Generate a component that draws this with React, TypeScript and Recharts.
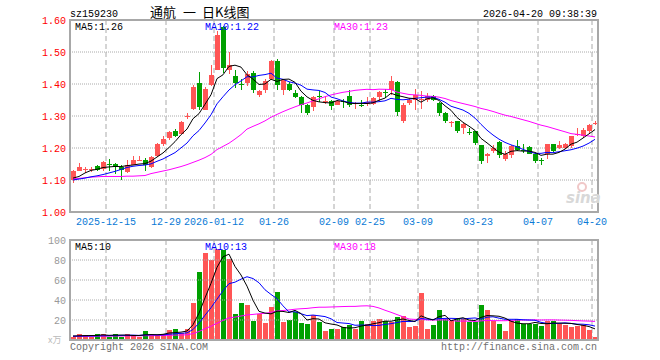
import React from 'react';
import { ComposedChart, Bar, Line, XAxis, YAxis, CartesianGrid, ReferenceLine } from 'recharts';

const dates = [
  '2025-12-05','2025-12-08','2025-12-09','2025-12-10','2025-12-11','2025-12-12',
  '2025-12-15','2025-12-16','2025-12-17','2025-12-18','2025-12-19',
  '2025-12-22','2025-12-23','2025-12-24','2025-12-25','2025-12-26',
  '2025-12-29','2025-12-30','2025-12-31',
  '2026-01-05','2026-01-06','2026-01-07','2026-01-08','2026-01-09',
  '2026-01-12','2026-01-13','2026-01-14','2026-01-15','2026-01-16',
  '2026-01-19','2026-01-20','2026-01-21','2026-01-22','2026-01-23',
  '2026-01-26','2026-01-27','2026-01-28','2026-01-29','2026-01-30',
  '2026-02-02','2026-02-03','2026-02-04','2026-02-05','2026-02-06',
  '2026-02-09','2026-02-10','2026-02-11','2026-02-12','2026-02-13',
  '2026-02-24','2026-02-25','2026-02-26','2026-02-27',
  '2026-03-02','2026-03-03','2026-03-04','2026-03-05','2026-03-06',
  '2026-03-09','2026-03-10','2026-03-11','2026-03-12','2026-03-13',
  '2026-03-16','2026-03-17','2026-03-18','2026-03-19','2026-03-20',
  '2026-03-23','2026-03-24','2026-03-25','2026-03-26','2026-03-27',
  '2026-03-30','2026-03-31','2026-04-01','2026-04-02','2026-04-03',
  '2026-04-07','2026-04-08','2026-04-09','2026-04-10',
  '2026-04-13','2026-04-14','2026-04-15','2026-04-16','2026-04-17',
  '2026-04-20',
];

const opens = [
  1.101,1.129,1.131,1.133,1.145,1.134,1.151,1.150,1.141,1.124,
  1.148,1.162,1.164,1.141,1.174,1.214,1.231,1.252,1.245,1.296,
  1.323,1.403,1.320,1.396,1.445,1.578,1.445,1.426,1.401,1.403,
  1.434,1.367,1.382,1.417,1.473,1.382,1.400,1.372,1.359,1.335,
  1.328,1.362,1.345,1.346,1.335,1.348,1.364,1.336,1.334,1.337,
  1.339,1.358,1.375,1.380,1.405,1.283,1.341,1.351,1.350,1.351,
  1.364,1.341,1.309,1.279,1.283,1.262,1.251,1.252,1.208,1.176,
  1.190,1.218,1.166,1.179,1.205,1.194,1.202,1.181,1.161,1.181,
  1.212,1.200,1.200,1.207,1.241,1.239,1.252,1.276,
];
const highs = [
  1.132,1.153,1.140,1.140,1.148,1.158,1.166,1.153,1.148,1.164,
  1.174,1.174,1.169,1.174,1.216,1.239,1.253,1.259,1.283,1.309,
  1.398,1.439,1.391,1.458,1.565,1.582,1.500,1.445,1.416,1.440,
  1.440,1.382,1.417,1.476,1.479,1.417,1.406,1.382,1.361,1.339,
  1.361,1.377,1.358,1.351,1.349,1.353,1.382,1.343,1.351,1.359,
  1.359,1.377,1.384,1.426,1.408,1.340,1.356,1.385,1.377,1.372,
  1.367,1.343,1.312,1.283,1.285,1.277,1.262,1.254,1.210,1.184,
  1.208,1.221,1.190,1.210,1.224,1.213,1.205,1.183,1.169,1.214,
  1.214,1.223,1.216,1.239,1.262,1.262,1.276,1.283,
];
const lows = [
  1.091,1.127,1.122,1.124,1.129,1.127,1.127,1.119,1.101,1.122,
  1.146,1.158,1.127,1.138,1.172,1.207,1.224,1.233,1.242,1.289,
  1.320,1.320,1.318,1.393,1.442,1.434,1.430,1.388,1.382,1.393,
  1.372,1.361,1.374,1.414,1.382,1.367,1.377,1.356,1.309,1.304,
  1.315,1.342,1.335,1.320,1.332,1.325,1.330,1.320,1.330,1.332,
  1.335,1.346,1.356,1.367,1.299,1.278,1.333,1.320,1.320,1.345,
  1.348,1.300,1.278,1.263,1.247,1.244,1.240,1.210,1.150,1.153,
  1.184,1.169,1.158,1.169,1.190,1.186,1.179,1.153,1.148,1.166,
  1.190,1.198,1.198,1.200,1.236,1.231,1.247,1.270,
];
const closes = [
  1.127,1.140,1.133,1.135,1.132,1.155,1.149,1.141,1.132,1.148,
  1.164,1.164,1.148,1.171,1.212,1.228,1.249,1.239,1.280,1.300,
  1.390,1.328,1.385,1.429,1.552,1.450,1.460,1.403,1.399,1.432,
  1.382,1.377,1.410,1.473,1.398,1.414,1.382,1.359,1.335,1.309,
  1.358,1.360,1.347,1.330,1.346,1.345,1.333,1.340,1.333,1.344,
  1.356,1.374,1.373,1.408,1.311,1.335,1.351,1.367,1.352,1.364,
  1.351,1.309,1.283,1.282,1.252,1.275,1.249,1.216,1.158,1.182,
  1.200,1.179,1.182,1.205,1.193,1.192,1.181,1.160,1.159,1.212,
  1.192,1.208,1.212,1.236,1.243,1.257,1.273,1.279,
];
// volume, in units of 10,000
const volumes = [
  2.7,6,4.7,3.3,6,6,3.3,6,3.3,6,
  4,3.3,9,5,5,6,10,11,7.3,10.7,
  37.3,68,87.3,80,90.7,90,81,26,37.3,35,
  19.3,25.7,17.3,33.3,48.3,18.3,20,28.3,17.3,16,
  25,18.3,9.3,11.3,11.3,12.7,15,11.3,19.3,16,
  19.3,20.7,19.3,18.3,22.7,24,13.3,14.3,46.7,10.7,
  15,30,20.7,19.3,20.7,20.7,18.3,18.3,35,30,
  19.3,16,9.3,19.3,20.7,16,16,16,14,19.3,
  19.3,16,15,13.3,14,15,10,3.3,
];

// moving-average values before a full window exists
const ma5Lead = [1.106, 1.111, 1.122, 1.130];
const ma10Lead = [1.100, 1.103, 1.106, 1.110, 1.113, 1.117, 1.122, 1.127, 1.133];
const ma30Lead = [
  1.103,1.105,1.107,1.109,1.110,1.111,1.111,1.111,1.111,1.112,
  1.112,1.113,1.114,1.120,1.124,1.128,1.132,1.137,1.142,1.148,
  1.155,1.162,1.170,1.180,1.195,1.205,1.215,1.228,1.242,
];
const vma5Lead = [4.0, 4.2, 4.4, 4.5];
const vma10Lead = [3.8, 3.9, 4.0, 4.0, 4.1, 4.2, 4.3, 4.4, 4.6];
const vma30Lead = [
  3.5,3.6,3.7,3.7,3.8,3.9,3.9,4.0,4.0,4.1,
  4.1,4.2,4.3,4.3,4.4,4.5,4.7,4.9,5.0,5.2,
  6.4,8.5,11.3,13.8,16.7,19.6,22.2,22.9,24.0,
];

const tickDates = ['2025-12-15','2025-12-29','2026-01-12','2026-01-26','2026-02-09','2026-02-25','2026-03-09','2026-03-23','2026-04-07','2026-04-20'];
const tickLabels = ['2025-12-15','12-29','2026-01-12','01-26','02-09','02-25','03-09','03-23','04-07','04-20'];
const priceTicks = [1.0, 1.1, 1.2, 1.3, 1.4, 1.5, 1.6];
const volTicks = [20, 40, 60, 80, 100];

const legendPrice = ['MA5:1.26', 'MA10:1.22', 'MA30:1.23'];
const legendVol = ['MA5:10', 'MA10:13', 'MA30:18'];

const RED = '#ff5555';
const GREEN = '#00a000';
const GRID = '#aaaaaa';
const FRAME = '#a8a8a8';
const MONO = '"Liberation Mono", "DejaVu Sans Mono", monospace';
const CJK = '"Noto Sans CJK SC", sans-serif';

function movingAvg(values: number[], n: number, lead: number[]) {
  return values.map((_, i) => {
    if (i < n - 1) return lead[i];
    let s = 0;
    for (let k = i - n + 1; k <= i; k++) s += values[k];
    return s / n;
  });
}

const ma5 = movingAvg(closes, 5, ma5Lead);
const ma10 = movingAvg(closes, 10, ma10Lead);
const ma30 = movingAvg(closes, 30, ma30Lead);
const vma5 = movingAvg(volumes, 5, vma5Lead);
const vma10 = movingAvg(volumes, 10, vma10Lead);
const vma30 = movingAvg(volumes, 30, vma30Lead);

const data = dates.map((d, i) => ({
  date: d,
  range: [lows[i], highs[i]],
  open: opens[i],
  close: closes[i],
  high: highs[i],
  low: lows[i],
  ma5: ma5[i],
  ma10: ma10[i],
  ma30: ma30[i],
  vol: volumes[i],
  vma5: vma5[i],
  vma10: vma10[i],
  vma30: vma30[i],
  up: closes[i] >= opens[i],
}));

const Candle = (props: any) => {
  const { x, y, width, height, payload } = props;
  if (!payload || height == null) return null;
  const { open, close, high, low } = payload;
  const ratio = height / (high - low || 1);
  const py = (p: number) => y + (high - p) * ratio;
  const color = close >= open ? RED : GREEN;
  const bx = Math.round(x);
  const w = Math.round(width);
  const cx = bx + Math.floor(w / 2);
  const top = Math.round(py(Math.max(open, close)));
  const bot = Math.round(py(Math.min(open, close)));
  return (
    <g shapeRendering="crispEdges">
      <rect x={cx} y={Math.round(y)} width={1} height={Math.max(1, Math.round(height))} fill={color} />
      <rect x={bx} y={top} width={w} height={Math.max(1, bot - top)} fill={color} />
    </g>
  );
};

const VolBar = (props: any) => {
  const { x, y, width, height, payload } = props;
  if (!payload) return null;
  const color = payload.up ? RED : GREEN;
  return (
    <rect x={Math.round(x)} y={Math.round(y)} width={Math.round(width)} height={Math.max(0, Math.round(height))}
      fill={color} shapeRendering="crispEdges" />
  );
};

const XTick = (props: any) => {
  const { x, y, payload } = props;
  const idx = tickDates.indexOf(payload.value);
  const off = payload.offset != null ? payload.offset : 3;
  return (
    <text x={x - off} y={y + 13} textAnchor="middle" fill="#0a7ad6" fontFamily={MONO} fontSize={10}>
      {idx >= 0 ? tickLabels[idx] : payload.value}
    </text>
  );
};

const PriceTick = (props: any) => {
  const { x, y, payload } = props;
  return (
    <text x={x} y={y + 3.5} textAnchor="end" fill="#ff0000" fontFamily={MONO} fontSize={10}>
      {Number(payload.value).toFixed(2)}
    </text>
  );
};

const VolLabel = (props: any) => {
  const vb = props.viewBox || {};
  return (
    <text x={(vb.x || 0) - 4} y={(vb.y || 0) + 3.5} textAnchor="end" fill="#999999" fontFamily={MONO} fontSize={10}>
      {props.text}
    </text>
  );
};

// vertical grid lines at the left edge of each tick date's slot
const vGen = (args: any) => {
  const off = args && args.offset;
  if (!off) return [];
  const slot = off.width / dates.length;
  return tickDates.map((d) => off.left + dates.indexOf(d) * slot);
};

export default function App() {
  return (
    <div style={{ position: 'absolute', left: 0, top: 0, width: 660, height: 360, background: '#fff', overflow: 'hidden' }}>
      <div style={{ position: 'absolute', left: 0, top: 0 }}>
        <ComposedChart width={660} height={232} data={data} margin={{ top: 20, right: 62, bottom: 0, left: 0 }}>
          <CartesianGrid vertical={false} stroke={GRID} strokeDasharray="1 1" />
          <CartesianGrid horizontal={false} stroke={GRID} strokeDasharray="5 3" verticalCoordinatesGenerator={vGen} />
          <XAxis dataKey="date" ticks={tickDates} interval={0} height={20} axisLine={false} tickLine={false}
            tickSize={0} tickMargin={0} tick={<XTick />} />
          <YAxis domain={[1.0, 1.6]} ticks={priceTicks} interval={0} minTickGap={0} width={70} axisLine={false} tickLine={false}
            tickSize={0} tickMargin={4} tick={<PriceTick />} allowDataOverflow />
          <Bar dataKey="range" barSize={5} shape={<Candle />} isAnimationActive={false} />
          <Line dataKey="ma30" stroke="#ff00ff" strokeWidth={1} dot={false} isAnimationActive={false} />
          <Line dataKey="ma10" stroke="#0000ff" strokeWidth={1} dot={false} isAnimationActive={false} />
          <Line dataKey="ma5" stroke="#000000" strokeWidth={1} dot={false} isAnimationActive={false} />
        </ComposedChart>
      </div>
      <div style={{ position: 'absolute', left: 0, top: 230 }}>
        <ComposedChart width={660} height={130} data={data} margin={{ top: 10, right: 62, bottom: 20, left: 0 }}>
          <CartesianGrid horizontal={false} stroke={GRID} strokeDasharray="5 3" verticalCoordinatesGenerator={vGen} />
          <XAxis dataKey="date" ticks={tickDates} hide />
          <YAxis type="number" domain={[0, 100]} width={70} axisLine={false} tickLine={false} tick={false} allowDataOverflow />
          {volTicks.map((v) => (
            <ReferenceLine key={v} y={v} stroke={GRID} strokeDasharray="1 1"
              label={<VolLabel text={String(v)} />} />
          ))}
          <Bar dataKey="vol" barSize={5} shape={<VolBar />} isAnimationActive={false} />
          <Line dataKey="vma30" stroke="#ff00ff" strokeWidth={1} dot={false} isAnimationActive={false} />
          <Line dataKey="vma10" stroke="#0000ff" strokeWidth={1} dot={false} isAnimationActive={false} />
          <Line dataKey="vma5" stroke="#000000" strokeWidth={1} dot={false} isAnimationActive={false} />
        </ComposedChart>
      </div>
      <svg width={660} height={360} style={{ position: 'absolute', left: 0, top: 0, pointerEvents: 'none' }}>
        <rect x={70} y={20} width={528} height={192} fill="none" stroke={FRAME} strokeWidth={2} />
        <rect x={70} y={240} width={528} height={100} fill="none" stroke={FRAME} strokeWidth={2} />
        <text x={70} y={17} fontFamily={MONO} fontSize={10} fill="#000">sz159230</text>
        <text x={150} y={17} fontFamily={CJK} fontSize={13} fill="#000">通航</text>
        <text x={183} y={17} fontFamily={CJK} fontSize={13} fill="#000">一</text>
        <text x={202} y={17} fontFamily={CJK} fontSize={13} fill="#000">日K线图</text>
        <text x={597} y={17} textAnchor="end" fontFamily={MONO} fontSize={10} fill="#000">2026-04-20 09:38:39</text>
        <text x={75} y={30} fontFamily={MONO} fontSize={10} fill="#000">{legendPrice[0]}</text>
        <text x={205} y={30} fontFamily={MONO} fontSize={10} fill="#0000ff">{legendPrice[1]}</text>
        <text x={334} y={30} fontFamily={MONO} fontSize={10} fill="#ff00ff">{legendPrice[2]}</text>
        <text x={75} y={250} fontFamily={MONO} fontSize={10} fill="#000">{legendVol[0]}</text>
        <text x={205} y={250} fontFamily={MONO} fontSize={10} fill="#0000ff">{legendVol[1]}</text>
        <text x={334} y={250} fontFamily={MONO} fontSize={10} fill="#ff00ff">{legendVol[2]}</text>
        <text x={48} y={343} fontFamily={CJK} fontSize={9} fill="#bbbbbb">x万</text>
        <text x={70} y={350} fontFamily={MONO} fontSize={10} fill="#707070">Copyright 2026 SINA.COM</text>
        <text x={597} y={350} textAnchor="end" fontFamily={MONO} fontSize={10} fill="#707070">http://finance.sina.com.cn</text>
        <text x={566} y={203} fontFamily={'"DejaVu Sans", sans-serif'} fontSize={15} fontWeight="bold" fontStyle="italic" fill="#d8d8d8">sina</text>
        <circle cx={582} cy={187} r={4} fill="none" stroke="#f0c8c8" strokeWidth={2} />
      </svg>
    </div>
  );
}
